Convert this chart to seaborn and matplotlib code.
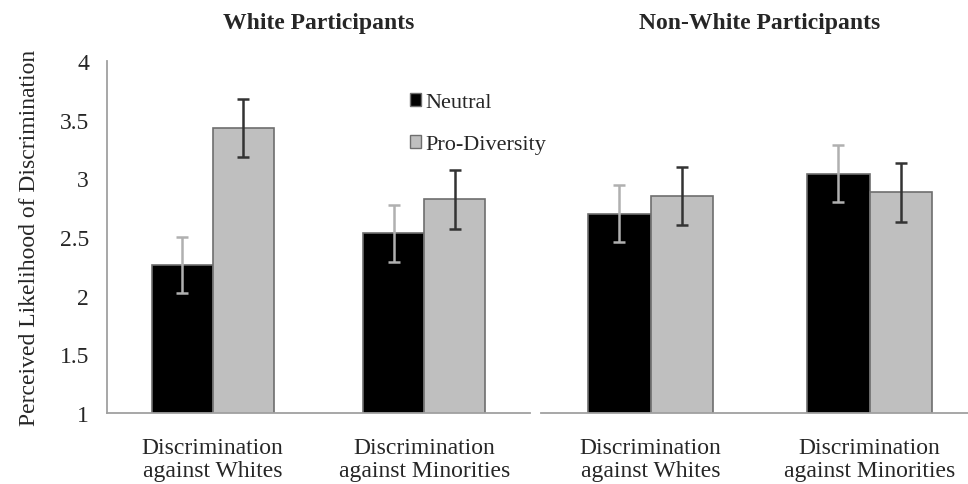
import pandas as pd
import numpy as np
import matplotlib
matplotlib.use("Agg")
from matplotlib import pyplot as plt
from matplotlib.patches import Patch
import seaborn as sns

### data ###
panels = ['White Participants', 'Non-White Participants']
targets = ['Discrimination\nagainst Whites', 'Discrimination\nagainst Minorities']
conditions = ['Neutral', 'Pro-Diversity']

# means per panel, one value per target
white_neutral = [2.26, 2.53]
white_prodiv = [3.43, 2.82]
nonwhite_neutral = [2.70, 3.04]
nonwhite_prodiv = [2.85, 2.88]

# error bar half-lengths
white_neutral_err = [0.24, 0.24]
white_prodiv_err = [0.25, 0.25]
nonwhite_neutral_err = [0.24, 0.24]
nonwhite_prodiv_err = [0.25, 0.25]

yticks = [1, 1.5, 2, 2.5, 3, 3.5, 4]
ytick_labels = ['1', '1.5', '2', '2.5', '3', '3.5', '4']

sns.set_style('white')
plt.rcParams['font.family'] = ['Liberation Serif', 'DejaVu Serif']

fig = plt.figure(figsize=(9.68, 4.85), dpi=100)
ax_l = fig.add_axes([0.1105, 0.1464, 0.437, 0.7258])
ax_r = fig.add_axes([0.5589, 0.1464, 0.4525, 0.7258])

palette = {'Neutral': '#000000', 'Pro-Diversity': '#bfbfbf'}
err_colors = {'Neutral': '#b0b0b0', 'Pro-Diversity': '#333333'}

panel_data = [
    (ax_l, panels[0], white_neutral, white_prodiv, white_neutral_err, white_prodiv_err),
    (ax_r, panels[1], nonwhite_neutral, nonwhite_prodiv, nonwhite_neutral_err, nonwhite_prodiv_err),
]

for ax, title, neu, pro, neu_e, pro_e in panel_data:
    df = pd.DataFrame({
        'target': targets * 2,
        'condition': ['Neutral'] * 2 + ['Pro-Diversity'] * 2,
        'value': neu + pro,
        'err': neu_e + pro_e,
    })
    sns.barplot(data=df, x='target', y='value', hue='condition', order=targets,
                hue_order=conditions, palette=palette, width=0.575, errorbar=None,
                edgecolor='#6e6e6e', linewidth=1.2, ax=ax, legend=False)

    # error bars on bar centres
    for patch, (_, row) in zip(ax.patches, df.iterrows()):
        xc = patch.get_x() + patch.get_width() / 2
        ax.errorbar(xc, row['value'], yerr=row['err'], fmt='none',
                    ecolor=err_colors[row['condition']], elinewidth=1.8,
                    capsize=4, capthick=1.8, zorder=5)

    ax.set_ylim(1, 4)
    ax.set_xlim(-0.5, 1.5)
    ax.set_xlabel('')
    ax.set_ylabel('')
    ax.set_title(title, fontsize=17, fontweight='bold', pad=24)
    ax.tick_params(axis='x', labelsize=17, length=0, pad=17)
    for s in ['top', 'right']:
        ax.spines[s].set_visible(False)
    ax.spines['bottom'].set_color('#a0a0a0')
    ax.spines['bottom'].set_linewidth(1.3)
    for lab in ax.get_xticklabels():
        lab.set_linespacing(1.15)

ax_l.set_yticks(yticks)
ax_l.set_yticklabels(ytick_labels)
ax_l.tick_params(axis='y', labelsize=17, length=0, pad=13)
ax_l.spines['left'].set_color('#a0a0a0')
ax_l.spines['left'].set_linewidth(1.3)
ax_l.set_ylabel('Perceived Likelihood of Discrimination', fontsize=17, labelpad=14)

ax_r.spines['left'].set_visible(False)
ax_r.set_yticks([])

handles = [Patch(facecolor=palette[c], edgecolor='#6e6e6e', linewidth=1.0, label=c)
           for c in conditions]
fig.legend(handles=handles, loc='upper left', bbox_to_anchor=(0.414, 0.825),
           frameon=False, fontsize=16, handlelength=0.5, handleheight=0.55,
           handletextpad=0.2, labelspacing=1.0, borderaxespad=0)

fig.savefig('out.png', dpi=100)
